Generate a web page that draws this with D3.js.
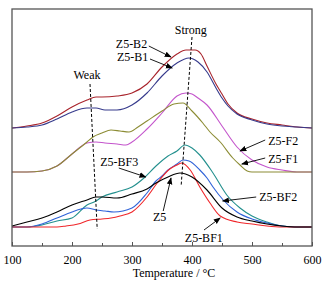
<!DOCTYPE html>
<html>
<head>
<meta charset="utf-8">
<script src="https://cdn.jsdelivr.net/npm/d3@7"></script>
<style>
  body { margin: 0; background: #fff; }
  svg text { font-family: "Liberation Serif", "Times New Roman", Times, "DejaVu Serif", serif !important; }
</style>
</head>
<body>
<div id="chart"></div>
<script>
// TPD profiles, temperature in °C, signal in arbitrary units (curves are offset)
const tempB2 = [100,125,150,175,200,225,240,250,275,300,325,350,375,390,405,415,425,440,450,460,475,500,525,550,575,600];
const sigB2  = [118,120,123,130,139,146,149,149,150,153,162,179,192,196,196,192,180,162,152,142,133,127,123,121,119,118];

const tempB1 = [100,125,150,175,200,225,240,255,275,300,325,350,375,395,410,425,440,450,460,475,500,525,550,575,600];
const sigB1  = [118,119,121,127,134,138,138,136,136,141,153,170,183,188,184,174,158,148,140,132,126,122,120,119,118];

const tempF2 = [100,125,150,175,200,225,240,255,275,290,300,325,350,375,390,400,410,425,450,475,500,525,550,575,600];
const sigF2  = [74,74,75,80,92,103,104,103,102,101,104,117,133,150,153,152,148,141,120,99,86,79,76,74,74];

const tempF1 = [100,125,150,175,200,225,235,250,265,280,295,310,325,350,370,385,400,418,430,447,468,480,492,500,550,600];
const sigF1  = [74,74,75,80,92,104,109,113,116,115,114,119,125,135,142,143,135,123,114,104,88,81,75,74,74,74];

const tempBF3 = [100,125,150,175,200,225,240,250,275,300,320,340,360,375,388,400,413,435,458,480,500,525,550,575,600];
const sigBF3  = [19,19,21,25,28,41,45,49,54,59,68,80,90,95,101,98,91,73,51,38,30,24,20,19,19];

const tempBF2 = [100,125,150,175,200,215,225,240,255,270,300,325,340,350,360,375,385,395,413,425,435,452,475,500,525,550,575,600];
const sigBF2  = [19,19,22,28,34,37,38,36,35,34,38,53,65,70,76,82,86,85,76,68,59,46,34,27,23,20,19,19];

const tempBF1 = [100,150,175,190,210,230,250,265,280,300,325,342,363,375,383,397,413,430,447,475,500,525,550,600];
const sigBF1  = [19,19,19,20,22,26,27,28,30,34,49,63,77,81,83,76,59,43,30,24,22,20,19,19];

const tempZ5 = [100,125,150,175,200,225,240,250,275,300,325,340,360,380,400,425,450,475,500,525,550,575,600];
const sigZ5  = [20,24,28,34,41,46,49,49,48,52,57,63,69,73,69,56,38,29,25,22,20,19,19];

const series = [
  {name: "Z5-B2",  t: tempB2,  v: sigB2,  color: "#a8232b"},
  {name: "Z5-B1",  t: tempB1,  v: sigB1,  color: "#363a8c"},
  {name: "Z5-F2",  t: tempF2,  v: sigF2,  color: "#c455cc"},
  {name: "Z5-F1",  t: tempF1,  v: sigF1,  color: "#8c8c34"},
  {name: "Z5-BF3", t: tempBF3, v: sigBF3, color: "#23908e"},
  {name: "Z5-BF2", t: tempBF2, v: sigBF2, color: "#2f62d8"},
  {name: "Z5-BF1", t: tempBF1, v: sigBF1, color: "#f0262a"},
  {name: "Z5",     t: tempZ5,  v: sigZ5,  color: "#000000"}
];

const majorTicks = [100, 200, 300, 400, 500, 600];
const minorTicks = [150, 250, 350, 450, 550];

// dashed guides [temp, signal] for the two desorption regions
const weakGuide   = [[230, 162], [242, 17]];
const strongGuide = [[400, 209], [382, 61]];

// labels: text anchor point and arrow [from, to] in data units
const labels = [
  {text: "Weak",   at: [225, 167], anchor: "middle"},
  {text: "Strong", at: [398, 212], anchor: "middle"},
  {text: "Z5-B2",  at: [273, 198], arrow: [[328, 200], [365, 189]]},
  {text: "Z5-B1",  at: [275, 185], arrow: [[330, 187], [367, 178]]},
  {text: "Z5-F2",  at: [527, 101], arrow: [[522, 106], [480, 95]]},
  {text: "Z5-F1",  at: [527, 83],  arrow: [[522, 88], [483, 82]]},
  {text: "Z5-BF3", at: [247, 80],  arrow: [[278, 78], [323, 69]]},
  {text: "Z5-BF2", at: [512, 45],  arrow: [[507, 49], [451, 45]]},
  {text: "Z5-BF1", at: [388, 4],   arrow: [[420, 16], [447, 28]]},
  {text: "Z5",     at: [335, 25],  arrow: [[352, 35], [365, 68]]}
];

const serif = "'Liberation Serif', 'Times New Roman', Times, 'DejaVu Serif', serif";
const width = 332, height = 288;
const margin = {top: 9, right: 20, bottom: 42, left: 12};

const svg = d3.select("#chart").append("svg")
  .attr("width", width)
  .attr("height", height)
  .attr("font-family", serif);

svg.append("rect").attr("width", width).attr("height", height).attr("fill", "#fff");

const x = d3.scaleLinear().domain([100, 600]).range([margin.left, width - margin.right]);
const y = d3.scaleLinear().domain([0, 237]).range([height - margin.bottom, margin.top]);

svg.append("defs").append("marker")
  .attr("id", "arrowHead")
  .attr("viewBox", "0 0 10 10")
  .attr("refX", 9).attr("refY", 5)
  .attr("markerWidth", 7).attr("markerHeight", 7)
  .attr("markerUnits", "userSpaceOnUse")
  .attr("orient", "auto")
  .append("path")
  .attr("d", "M0,1 L10,5 L0,9 Z")
  .attr("fill", "#000");

// curves
const line = d3.line()
  .x(d => x(d[0]))
  .y(d => y(d[1]))
  .curve(d3.curveMonotoneX);

svg.selectAll("path.curve")
  .data(series)
  .enter()
  .append("path")
  .attr("class", "curve")
  .attr("d", s => line(s.t.map((t, i) => [t, s.v[i]])))
  .attr("fill", "none")
  .attr("stroke", s => s.color)
  .attr("stroke-width", 1.1);

// dashed guides
svg.selectAll("line.guide")
  .data([weakGuide, strongGuide])
  .enter()
  .append("line")
  .attr("class", "guide")
  .attr("x1", d => x(d[0][0])).attr("y1", d => y(d[0][1]))
  .attr("x2", d => x(d[1][0])).attr("y2", d => y(d[1][1]))
  .attr("stroke", "#000")
  .attr("stroke-width", 1)
  .attr("stroke-dasharray", "3,2");

// axis
const xAxis = svg.append("g")
  .attr("transform", `translate(0,${height - margin.bottom})`)
  .call(d3.axisBottom(x).tickValues(majorTicks).tickSize(-4).tickPadding(9));
xAxis.attr("font-family", serif);
xAxis.select(".domain").remove();
xAxis.selectAll("text").attr("font-size", 12).attr("fill", "#000");
xAxis.selectAll("line").attr("stroke", "#555");

const xMinor = svg.append("g")
  .attr("transform", `translate(0,${height - margin.bottom})`)
  .call(d3.axisBottom(x).tickValues(minorTicks).tickSize(-3).tickFormat(""));
xMinor.select(".domain").remove();
xMinor.selectAll("line").attr("stroke", "#555");

// frame
svg.append("rect")
  .attr("x", margin.left).attr("y", margin.top)
  .attr("width", width - margin.left - margin.right)
  .attr("height", height - margin.top - margin.bottom)
  .attr("fill", "none")
  .attr("stroke", "#555")
  .attr("stroke-width", 1.3);

svg.append("text")
  .attr("x", (margin.left + width - margin.right) / 2 + 12)
  .attr("y", 277)
  .attr("text-anchor", "middle")
  .attr("font-size", 12)
  .text("Temperature / °C");

// annotations
const ann = svg.append("g");
labels.filter(d => d.arrow).forEach(d => {
  ann.append("line")
    .attr("x1", x(d.arrow[0][0])).attr("y1", y(d.arrow[0][1]))
    .attr("x2", x(d.arrow[1][0])).attr("y2", y(d.arrow[1][1]))
    .attr("stroke", "#000")
    .attr("stroke-width", 0.9)
    .attr("marker-end", "url(#arrowHead)");
});
ann.selectAll("text")
  .data(labels)
  .enter()
  .append("text")
  .attr("x", d => x(d.at[0]))
  .attr("y", d => y(d.at[1]))
  .attr("text-anchor", d => d.anchor || "start")
  .attr("font-size", 12)
  .text(d => d.text);
</script>
</body>
</html>
